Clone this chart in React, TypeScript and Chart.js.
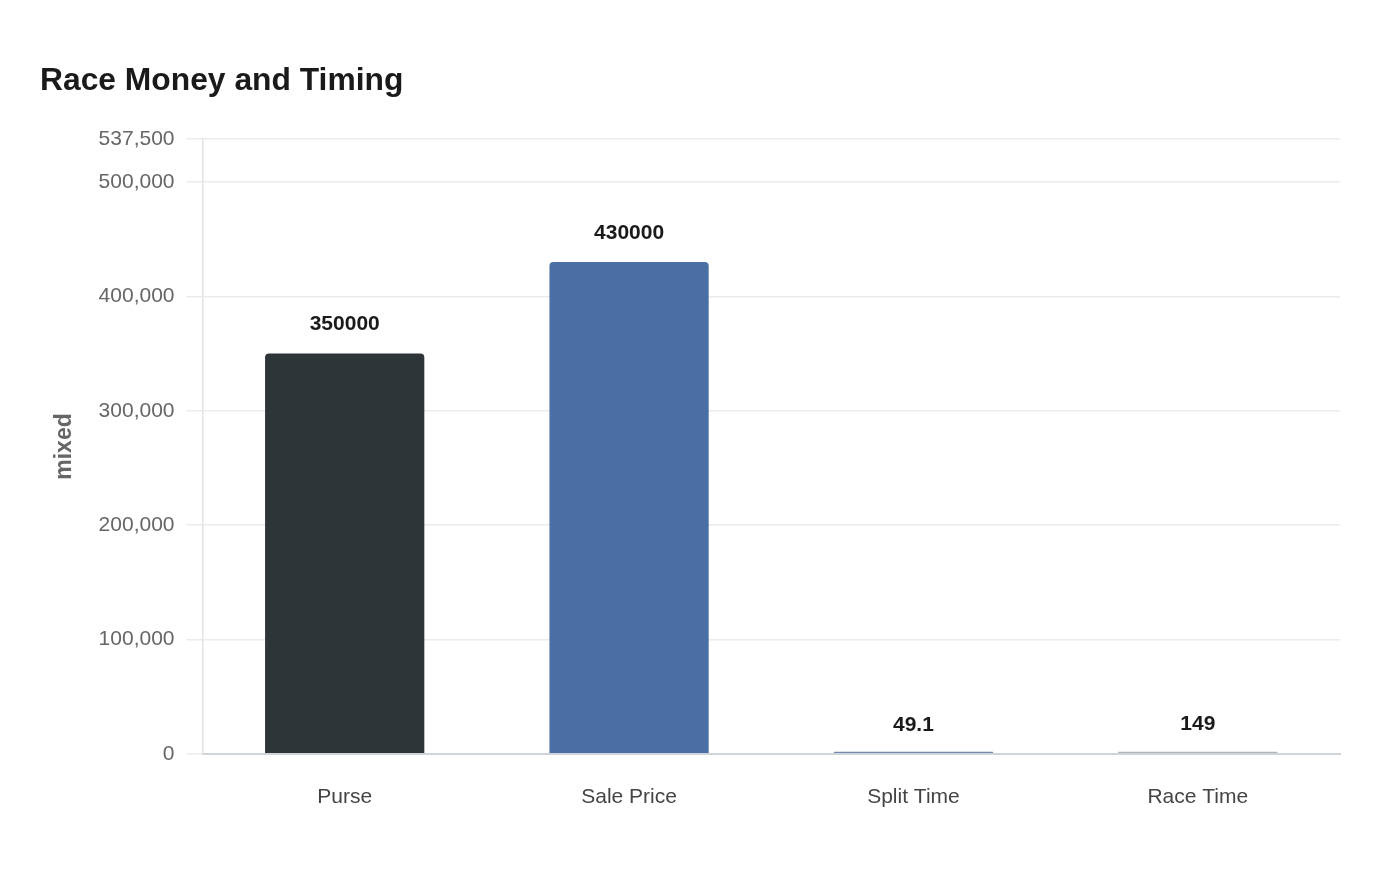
import React, { useEffect, useRef } from "react";
import { Chart, registerables } from "chart.js";

Chart.register(...registerables);

const TITLE = "Race Money and Timing";
const Y_TITLE = "mixed";
const CATEGORIES = ["Purse", "Sale Price", "Split Time", "Race Time"];
const VALUES = [350000, 430000, 49.1, 149];
const BAR_COLORS = ["#2e3538", "#4a6fa5", "#6f8aab", "#adb4bc"];
const Y_MAX = 537500;
const Y_TICKS = [0, 100000, 200000, 300000, 400000, 500000, 537500];
const FONT = "'Liberation Sans', Arial, Helvetica, sans-serif";

const valueLabels = {
  id: "valueLabels",
  afterDatasetsDraw(chart: any) {
    const { ctx } = chart;
    const meta = chart.getDatasetMeta(0);
    const yScale = chart.scales.y;
    ctx.save();
    ctx.font = `bold 21px ${FONT}`;
    ctx.fillStyle = "#1a1a1a";
    ctx.textAlign = "center";
    ctx.textBaseline = "middle";
    meta.data.forEach((bar: any, i: number) => {
      ctx.fillText(String(VALUES[i]), bar.x, yScale.getPixelForValue(VALUES[i]) - 29);
    });
    ctx.restore();
  },
};

export default function App() {
  const ref = useRef<HTMLCanvasElement | null>(null);
  useEffect(() => {
    if (!ref.current) return;
    const chart = new Chart(ref.current, {
      type: "bar",
      data: {
        labels: CATEGORIES,
        datasets: [
          {
            data: VALUES,
            backgroundColor: BAR_COLORS,
            borderRadius: { topLeft: 4, topRight: 4, bottomLeft: 0, bottomRight: 0 },
            borderSkipped: false,
            barPercentage: 0.7,
            categoryPercentage: 0.8,
            minBarLength: 2,
          },
        ],
      },
      options: {
        animation: false,
        responsive: true,
        maintainAspectRatio: false,
        layout: { padding: { left: 40, right: 60, top: 62, bottom: 47 } },
        plugins: {
          legend: { display: false },
          tooltip: { enabled: false },
          title: {
            display: true,
            text: TITLE,
            align: "start",
            color: "#1a1a1a",
            font: { family: FONT, size: 31.8, weight: "bold" },
            padding: { top: 0, bottom: 39 },
          },
        },
        scales: {
          x: {
            grid: { display: false },
            border: { display: true, color: "#cfd4d9", width: 2 },
            ticks: {
              color: "#444444",
              font: { family: FONT, size: 21 },
              padding: 23,
            },
          },
          y: {
            min: 0,
            max: Y_MAX,
            afterBuildTicks: (scale: any) => {
              scale.ticks = Y_TICKS.map((v) => ({ value: v }));
            },
            grid: { color: "#ebebeb", lineWidth: 1.5, tickLength: 16 },
            border: { display: true, color: "#e3e3e3", width: 1.5 },
            title: {
              display: true,
              text: Y_TITLE,
              color: "#666666",
              font: { family: FONT, size: 23, weight: "bold" },
              padding: { top: 11, bottom: 8 },
            },
            ticks: {
              color: "#666666",
              font: { family: FONT, size: 21 },
              padding: 12,
              callback: (v: any) => Number(v).toLocaleString("en-US"),
            },
          },
        },
      },
      plugins: [valueLabels],
    });
    return () => chart.destroy();
  }, []);
  return (
    <div style={{ position: "fixed", left: 0, top: 0, width: 1400, height: 880, background: "#ffffff" }}>
      <canvas ref={ref} />
    </div>
  );
}
